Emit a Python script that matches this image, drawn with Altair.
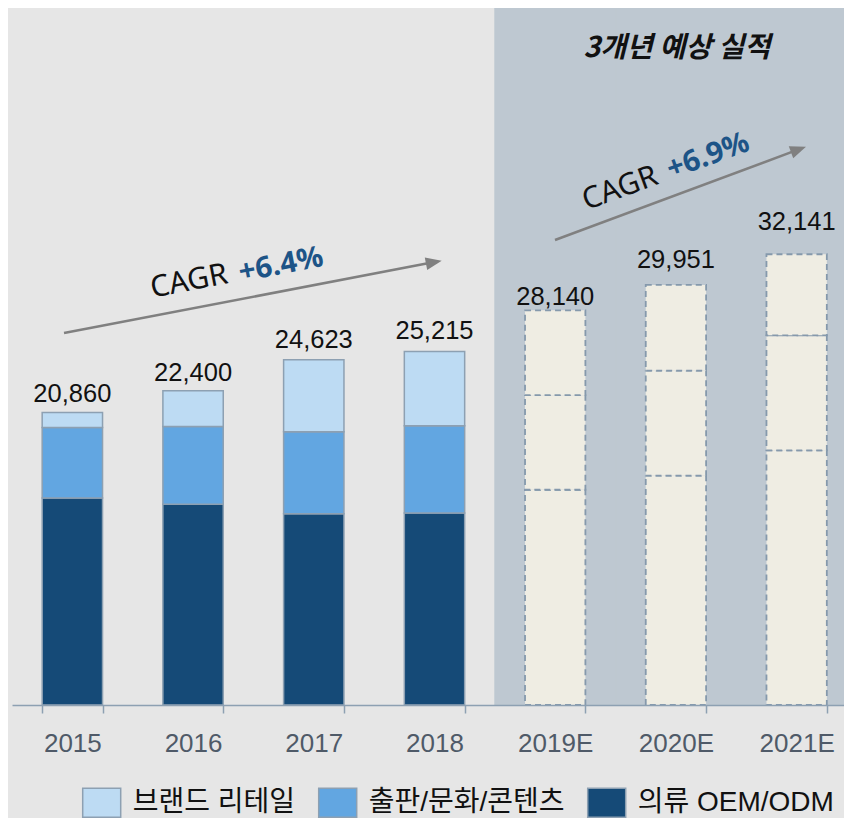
import altair as alt
import pandas as pd

# ---- data ----
years = ["2015", "2016", "2017", "2018", "2019E", "2020E", "2021E"]
forecast_years = ["2019E", "2020E", "2021E"]
totals = [20860, 22400, 24623, 25215, 28140, 29951, 32141]
oem = [14758, 14317, 13642, 13687, 15350, 16352, 18160]          # 의류 OEM/ODM
publishing = [5038, 5536, 5835, 6222, 6743, 7488, 8203]          # 출판/문화/콘텐츠
retail = [1064, 2547, 5146, 5306, 6047, 6111, 5778]              # 브랜드 리테일
series_names = ["브랜드 리테일", "출판/문화/콘텐츠", "의류 OEM/ODM"]
series_colors = ["#bddbf3", "#62a6e1", "#154a77"]
cagr_labels = ["+6.4%", "+6.9%"]
title_text = "3개년 예상 실적"

# label gap above each bar (px), layout only
label_gaps = [10, 10, 12, 12, 5, 17, 24]

rows = []
for i, yr in enumerate(years):
    for rank, (name, vals) in enumerate(
        [(series_names[2], oem), (series_names[1], publishing), (series_names[0], retail)]
    ):
        rows.append({"year": yr, "series": name, "value": vals[i], "rank": rank,
                     "forecast": yr in forecast_years})
df = pd.DataFrame(rows)
tot_df = pd.DataFrame({"year": years, "total": totals})

W, H, YMAX = 832, 697, 49700
BG = "#e6e6e6"
SHADE = "#bec8d1"
EDGE = "#8da0b2"
LATIN = "Liberation Sans, Arial, Noto Sans CJK KR"
KR = "Liberation Sans, Noto Sans CJK KR"

x_axis = alt.Axis(title=None, labelAngle=0, labelFont=LATIN, labelFontSize=26,
                  labelColor="#4f5a68", tickSize=8, tickColor=EDGE, tickWidth=1.5,
                  domainColor=EDGE, domainWidth=1.5, labelPadding=17,
                  tickBand="extent", zindex=1, grid=False)
x_enc = alt.X("year:N", sort=years,
              scale=alt.Scale(domain=years, range=[0, 845], paddingInner=0.5, paddingOuter=0.25),
              axis=x_axis)
y_scale = alt.Scale(domain=[0, YMAX], nice=False, zero=True)

one = pd.DataFrame({"k": [0]})

shade = alt.Chart(pd.DataFrame({"year": forecast_years})).mark_bar(
    width=alt.RelativeBandSize(2.0), color=SHADE, stroke=SHADE, strokeWidth=1, opacity=1
).encode(
    x=x_enc,
    y=alt.Y(datum=YMAX, scale=y_scale, axis=None),
    y2=alt.Y2(datum=0),
)

hist = alt.Chart(df[~df["forecast"]]).mark_bar(stroke=EDGE, strokeWidth=1.5, opacity=1).encode(
    x=x_enc,
    y=alt.Y("value:Q", stack="zero", scale=y_scale, axis=None),
    color=alt.Color("series:N",
                    scale=alt.Scale(domain=series_names, range=series_colors),
                    legend=alt.Legend(orient="none", legendX=69.7, legendY=774.5,
                                      direction="horizontal", title=None,
                                      symbolType="M-1,-0.763H1V0.763H-1Z", symbolSize=1444,
                                      symbolStrokeColor=EDGE, symbolStrokeWidth=1.5,
                                      symbolOpacity=1, labelFont=KR, labelFontSize=28,
                                      labelColor="#111111", labelOffset=11, columnPadding=20,
                                      labelLimit=400, padding=0)),
    order=alt.Order("rank:Q"),
)

fc = alt.Chart(df[df["forecast"]]).mark_bar(
    fill="#efede3", stroke="#8599ac", strokeWidth=1.8, strokeDash=[6, 4], opacity=1
).encode(
    x=x_enc,
    y=alt.Y("value:Q", stack="zero", scale=y_scale, axis=None),
    order=alt.Order("rank:Q"),
)

labels = []
for i, yr in enumerate(years):
    labels.append(
        alt.Chart(tot_df.iloc[[i]]).mark_text(
            dy=-label_gaps[i], baseline="alphabetic", font=LATIN, fontSize=25.5, color="#111111"
        ).encode(
            x=x_enc,
            y=alt.Y("total:Q", scale=y_scale, axis=None),
            text=alt.Text("total:Q", format=","),
        )
    )

ARROW = "#808080"
head = "M0,0L-2,-0.8L-2,0.8Z"


def arrow(x0, y0, x1, y1, ang):
    line = alt.Chart(one).mark_rule(color=ARROW, strokeWidth=2.5).encode(
        x=alt.value(x0), y=alt.value(y0), x2=alt.value(x1 - 6), y2=alt.value(y1 + 6 * (y0 - y1) / (x1 - x0))
    )
    tip = alt.Chart(one).mark_point(shape=head, size=256, filled=True, color=ARROW,
                                    opacity=1, strokeWidth=0, angle=ang).encode(
        x=alt.value(x1), y=alt.value(y1)
    )
    return line + tip


arrow1 = arrow(52, 325, 429.7, 252.7, 349.2)
arrow2 = arrow(543, 232, 794, 138.7, 339.6)


def cagr(xc, yc, xp, yp, ang, pct):
    t1 = alt.Chart(one).mark_text(text="CAGR", font="Noto Sans", fontSize=30, color="#111111",
                                  angle=ang, align="center", baseline="middle").encode(
        x=alt.value(xc), y=alt.value(yc))
    t2 = alt.Chart(one).mark_text(text=pct, font="Noto Sans", fontSize=29.5, fontWeight="bold",
                                  color="#1d5487", angle=ang, align="center",
                                  baseline="middle").encode(
        x=alt.value(xp), y=alt.value(yp))
    return t1 + t2


cagr1 = cagr(177, 273.5, 269, 257, 349, cagr_labels[0])
cagr2 = cagr(608, 180.5, 696, 148, 340, cagr_labels[1])

title = alt.Chart(one).mark_text(text=title_text, font="Noto Sans CJK KR", fontSize=28.5,
                                 fontWeight="bold", fontStyle="italic", color="#111111",
                                 align="center", baseline="middle").encode(
    x=alt.value(665), y=alt.value(40))

chart = alt.layer(shade, hist, fc, *labels, arrow1, arrow2, cagr1, cagr2, title).properties(
    width=W, height=H,
    autosize=alt.AutoSizeParams(type="none"),
    padding={"left": 4, "top": 0, "right": 0, "bottom": 113},
).configure(background=BG).configure_view(stroke=None)

chart.save("out.html", embed_options={"renderer": "svg", "actions": False})
